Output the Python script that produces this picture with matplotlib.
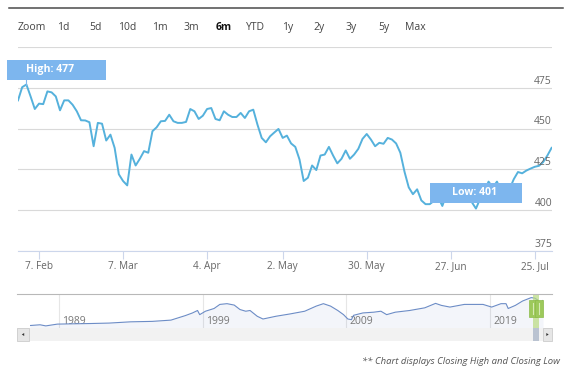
import matplotlib

matplotlib.use("Agg")

import matplotlib.pyplot as plt
import numpy as np
from matplotlib.lines import Line2D
from matplotlib.patches import Polygon, Rectangle
from matplotlib.transforms import IdentityTransform, blended_transform_factory


# 6 month closing prices, one value per trading day
DAYS = list(range(128))
CLOSE = [
    467.3, 475.4, 477.0, 469.7, 462.0, 465.3, 465.0, 472.8, 472.2, 469.7,
    461.2, 467.3, 467.3, 464.6, 460.6, 455.1, 455.0, 453.9, 439.2, 453.5,
    453.0, 442.7, 446.3, 438.2, 422.0, 417.9, 415.2, 434.1, 427.4, 431.5,
    436.2, 435.2, 448.4, 450.8, 454.5, 454.7, 458.5, 454.5, 453.5, 453.5,
    454.1, 462.0, 460.6, 455.9, 457.9, 462.0, 462.6, 455.9, 455.1, 460.6,
    458.5, 457.1, 457.1, 459.6, 456.5, 460.6, 461.6, 452.4, 444.3, 441.6,
    445.3, 447.6, 449.8, 444.3, 445.7, 440.9, 438.8, 431.1, 417.9, 419.9,
    427.4, 424.6, 433.5, 434.1, 438.8, 433.5, 428.7, 431.5, 436.6, 431.5,
    434.1, 437.6, 443.7, 446.7, 443.3, 439.2, 441.3, 440.7, 444.3, 443.3,
    440.9, 435.2, 423.5, 414.0, 409.8, 412.8, 406.0, 403.7, 403.7, 405.7,
    408.0, 402.6, 410.0, 413.0, 416.0, 414.0, 410.0, 407.0, 405.0, 401.0,
    407.0, 412.0, 417.5, 414.0, 417.5, 412.0, 410.0, 413.0, 419.0, 423.4,
    422.6, 424.3, 425.5, 426.6, 427.2, 429.5, 433.5, 438.2,
]
TICK_DAYS = [5, 25, 45, 63, 83, 103, 123]
TICK_LABELS = ["7. Feb", "7. Mar", "4. Apr", "2. May", "30. May", "27. Jun", "25. Jul"]
Y_TICKS = [375, 400, 425, 450, 475, 500]

BUTTONS = ["1d", "5d", "10d", "1m", "3m", "6m", "YTD", "1y", "2y", "3y", "5y", "Max"]
ACTIVE_BUTTON = "6m"

# long history shown in the navigator
NAV_YEARS = [
    1987.0, 1987.7, 1988.1, 1988.9, 1989.95, 1991.2, 1992.5, 1994.0, 1995.5, 1996.8,
    1997.8, 1998.3, 1998.65, 1998.8, 1999.2, 1999.8, 2000.2, 2000.7, 2001.2, 2001.6,
    2002.0, 2002.3, 2002.8, 2003.2, 2004.1, 2005.1, 2006.1, 2006.9, 2007.4, 2007.9,
    2008.4, 2008.8, 2009.1, 2009.35, 2009.5, 2010.15, 2010.9, 2011.4, 2011.8, 2012.4,
    2013.4, 2014.45, 2015.2, 2015.6, 2016.2, 2017.2, 2018.5, 2019.1, 2019.75, 2020.1,
    2020.25, 2020.75, 2021.25, 2021.85, 2022.1, 2022.3, 2022.5, 2022.67,
]
NAV_VALUES = [
    100, 110, 95, 119, 123, 127, 133, 150, 156, 173,
    234, 270, 303, 247, 293, 330, 385, 395, 376, 316,
    293, 303, 225, 188, 225, 257, 293, 362, 395, 362,
    303, 247, 188, 179, 238, 270, 280, 293, 247, 280,
    303, 339, 399, 372, 349, 385, 385, 349, 395, 395,
    330, 372, 431, 477, 470, 445, 405, 438,
]
NAV_LABEL_YEARS = [1989, 1999, 2009, 2019]
WINDOW = (2021.98, 2022.40)

FOOTER = "** Chart displays Closing High and Closing Low"

W, H = 567, 373
LINE_COLOR = "#55b1dc"
FLAG_COLOR = "#7db6ee"
AXIS_COLOR = "#ccd6eb"
GRID_COLOR = "#d9d9d9"
TEXT_COLOR = "#666666"

plt.rcParams["font.family"] = ["Open Sans", "DejaVu Sans"]


def fx(x):
    return x / W


def fy(y):
    return 1 - y / H


def fig_rect(fig, x0, y0, x1, y1, **kw):
    # rectangle given in picture pixels (origin top left)
    fig.patches.append(Rectangle((fx(x0), fy(y1)), fx(x1 - x0), (y1 - y0) / H,
                                 transform=fig.transFigure, figure=fig, **kw))


fig = plt.figure(figsize=(W / 100, H / 100), dpi=100)

# top rule and range selector
fig.lines.append(Line2D([fx(9), fx(563)], [fy(7.5), fy(7.5)], color="#4a4a4a",
                        lw=1.1, transform=fig.transFigure))
fig.text(fx(18), fy(27.5), "Zoom", ha="left", va="center", fontsize=7.5, color="#444444")
for i, label in enumerate(BUTTONS):
    bold = label == ACTIVE_BUTTON
    fig.text(fx(63.5 + 32 * i), fy(27.5), label, ha="center", va="center", fontsize=7.5,
             color="#111111" if bold else "#444444", fontweight="bold" if bold else "normal")

# main price chart
ax = fig.add_axes([fx(18), fy(251), (552 - 18) / W, (251 - 47) / H])
ax.plot(DAYS, CLOSE, color=LINE_COLOR, lw=1.4, zorder=3, solid_joinstyle="round")
ax.set_xlim(0, 127.1)
ax.set_ylim(375, 500)
ax.set_yticks(Y_TICKS)
ax.yaxis.grid(True, color=GRID_COLOR, lw=0.8)
ax.tick_params(axis="y", length=0, labelleft=False)
ax.set_xticks(TICK_DAYS, TICK_LABELS)
ax.tick_params(axis="x", length=6, width=0.8, color=AXIS_COLOR, pad=1.5,
               labelsize=7.2, labelcolor=TEXT_COLOR)
for side in ["top", "left", "right"]:
    ax.spines[side].set_visible(False)
ax.spines["bottom"].set_color(AXIS_COLOR)
ax.spines["bottom"].set_linewidth(0.8)
ax.set_axisbelow(True)

ytrans = blended_transform_factory(ax.transAxes, ax.transData)
for v in Y_TICKS[:-1]:
    ax.annotate(str(v), xy=(1.0, v), xycoords=ytrans, xytext=(0, 0.8),
                textcoords="offset points", ha="right", va="bottom",
                fontsize=7.5, color=TEXT_COLOR)

# closing high / low flags
i_hi = int(np.argmax(CLOSE))
i_lo = int(np.argmin(CLOSE))
hx, hy = ax.transData.transform((DAYS[i_hi], CLOSE[i_hi]))
lx, ly = ax.transData.transform((DAYS[i_lo], CLOSE[i_lo]))
ident = IdentityTransform()

fig.lines.append(Line2D([hx, hx], [hy, hy + 6], color=FLAG_COLOR, lw=0.8, transform=ident))
fig.patches.append(Rectangle((hx - 19, hy + 5), 99, 20, fc=FLAG_COLOR, ec="none",
                             transform=ident, figure=fig, zorder=5))
fig.text(hx, hy + 15, f"High: {CLOSE[i_hi]:.0f}", transform=ident, ha="left",
         va="center", fontsize=7.6, fontweight="bold", color="white", zorder=6)

fig.patches.append(Rectangle((lx - 46, ly + 6), 92, 20, fc=FLAG_COLOR, ec="none",
                             transform=ident, figure=fig, zorder=5))
fig.text(lx - 1, ly + 16, f"Low: {CLOSE[i_lo]:.0f}", transform=ident, ha="center",
         va="center", fontsize=7.6, fontweight="bold", color="white", zorder=6)

# navigator
nav = fig.add_axes([fx(30), fy(328), (543 - 30) / W, (328 - 294) / H])
nav.plot(NAV_YEARS, NAV_VALUES, color="#6c8cc6", lw=0.8, zorder=3)
nav.fill_between(NAV_YEARS, NAV_VALUES, 0, color="#335cad", alpha=0.06, lw=0, zorder=2)
nav.set_xlim(NAV_YEARS[0], NAV_YEARS[-1])
nav.set_ylim(66.6, 525.6)
nav.set_xticks([])
nav.set_yticks([])
for s in nav.spines.values():
    s.set_visible(False)
for yr in NAV_LABEL_YEARS:
    nav.axvline(yr, color="#e6e6e6", lw=0.8, zorder=1)
    nav.annotate(str(yr), xy=(yr, 0.19), xycoords=("data", "axes fraction"),
                 xytext=(2.2, 0), textcoords="offset points", ha="left", va="center",
                 fontsize=7.5, color="#777777", zorder=2)
nav.axvspan(WINDOW[0], WINDOW[1], color="#b9db80", alpha=0.7, lw=0, zorder=4)

fig.lines.append(Line2D([fx(17), fx(552)], [fy(294), fy(294)], color="#b8b8b8",
                        lw=0.8, transform=fig.transFigure))

# handles of the selected window
for yr in WINDOW:
    cx = nav.transData.transform((yr, 0))[0]
    fig.patches.append(Rectangle((cx - 4, fy(317) * H), 8, 17, fc="#9dc95b", ec="#8cbc4a",
                                 lw=0.5, transform=ident, figure=fig))
    fig.lines.append(Line2D([cx, cx], [fy(314) * H, fy(303) * H], color="#d6ebb5",
                            lw=0.8, transform=ident))

# scrollbar
fig_rect(fig, 17, 328, 552, 341, fc="#f2f2f2", ec="none")
tx0 = nav.transData.transform((WINDOW[0], 0))[0]
tx1 = nav.transData.transform((WINDOW[1], 0))[0]
fig.patches.append(Rectangle((tx0, fy(341) * H), tx1 - tx0, 13, fc="#bac3d1", ec="none",
                             transform=ident, figure=fig))
fig_rect(fig, 17, 328, 29, 341, fc="#e6e6e6", ec="#cccccc", lw=0.6)
fig_rect(fig, 543, 328, 552, 341, fc="#e6e6e6", ec="#cccccc", lw=0.6)
fig.patches.append(Polygon([(fx(21.8), fy(334.5)), (fx(24.2), fy(333)), (fx(24.2), fy(336))],
                           closed=True, fc="#333333", ec="none",
                           transform=fig.transFigure, figure=fig))
fig.patches.append(Polygon([(fx(548.7), fy(334.5)), (fx(546.3), fy(333)), (fx(546.3), fy(336))],
                           closed=True, fc="#333333", ec="none",
                           transform=fig.transFigure, figure=fig))

fig.text(fx(560), fy(362), FOOTER, ha="right", va="center", fontsize=6.8,
         style="italic", color="#555555")

fig.savefig("out.png", dpi=100)
